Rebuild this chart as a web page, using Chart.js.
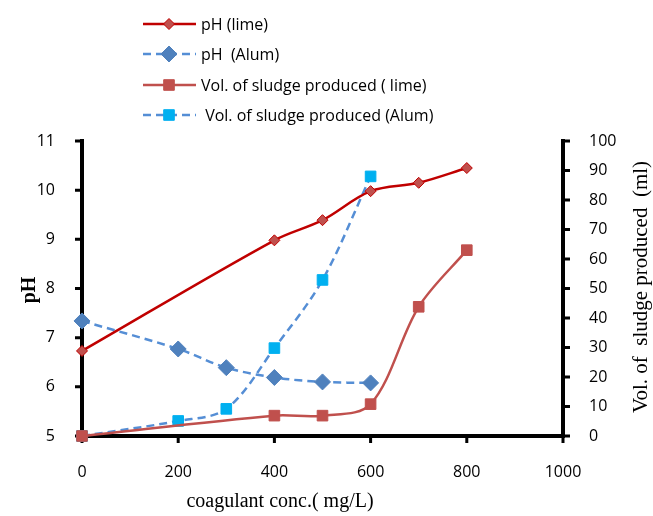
<!DOCTYPE html>
<html>
<head>
<meta charset="utf-8">
<script src="https://cdn.jsdelivr.net/npm/chart.js@4/dist/chart.umd.min.js"></script>
<style>
  html, body { margin: 0; padding: 0; background: #fff; }
  #wrap { width: 653px; height: 516px; position: relative; }
</style>
</head>
<body>
<div id="wrap"><canvas id="chart"></canvas></div>
<script>
// coagulant doses (mg/L)
const limeDose = [0, 400, 500, 600, 700, 800];
const alumDose = [0, 200, 300, 400, 500, 600];

// pH values
const phLime = [6.73, 8.98, 9.39, 9.98, 10.15, 10.45];
const phAlum = [7.34, 6.77, 6.39, 6.19, 6.10, 6.08];

// sludge volume (ml)
const sludgeLime = [0, 6.9, 6.9, 10.8, 43.8, 63];
const sludgeAlum = [0, 5.1, 9.2, 29.8, 52.9, 88];

const seriesNames = ['pH (lime)', 'pH  (Alum)', 'Vol. of sludge produced ( lime)', ' Vol. of sludge produced (Alum)'];
const xTicks = [0, 200, 400, 600, 800, 1000];

const tickFont = { family: '"Open Sans", sans-serif', size: 16 };
const serif = '"Liberation Serif", "Times New Roman", serif';

function pairs(xs, ys) {
    return xs.map((x, i) => ({ x: x, y: ys[i] }));
}

// thick black axis lines with outward tick marks
const axesLines = {
    id: 'axesLines',
    beforeDatasetsDraw(chart) {
        const ctx = chart.ctx;
        const a = chart.chartArea;
        const sx = chart.scales.x, sy = chart.scales.y, sy2 = chart.scales.y2;
        ctx.save();
        ctx.strokeStyle = '#000';
        ctx.lineWidth = 4;
        ctx.lineCap = 'square';
        ctx.beginPath();
        ctx.moveTo(a.left, a.top); ctx.lineTo(a.left, a.bottom);
        ctx.moveTo(a.right, a.top); ctx.lineTo(a.right, a.bottom);
        ctx.moveTo(a.left, a.bottom); ctx.lineTo(a.right, a.bottom);
        ctx.stroke();
        ctx.lineCap = 'butt';
        ctx.lineWidth = 3;
        ctx.beginPath();
        sx.ticks.forEach(t => {
            const px = sx.getPixelForValue(t.value);
            ctx.moveTo(px, a.bottom); ctx.lineTo(px, a.bottom + 7);
        });
        sy.ticks.forEach(t => {
            const py = sy.getPixelForValue(t.value);
            ctx.moveTo(a.left, py); ctx.lineTo(a.left - 7, py);
        });
        sy2.ticks.forEach(t => {
            const py = sy2.getPixelForValue(t.value);
            ctx.moveTo(a.right, py); ctx.lineTo(a.right + 7, py);
        });
        ctx.stroke();
        ctx.restore();
    }
};

// draws the vertical legend and the axis titles
const overlay = {
    id: 'overlay',
    afterDraw(chart) {
        const ctx = chart.ctx;
        const rows = [24, 54, 85, 115];
        chart.data.datasets.forEach((ds, i) => {
            const y = rows[i];
            ctx.save();
            ctx.strokeStyle = ds.borderColor;
            ctx.lineWidth = ds.borderWidth;
            ctx.setLineDash(ds.borderDash || []);
            ctx.beginPath();
            ctx.moveTo(143, y);
            ctx.lineTo(196, y);
            ctx.stroke();
            ctx.setLineDash([]);
            ctx.fillStyle = ds.pointBackgroundColor;
            ctx.strokeStyle = ds.pointBorderColor;
            ctx.lineWidth = ds.pointBorderWidth;
            Chart.helpers.drawPoint(ctx, {
                pointStyle: ds.pointStyle,
                radius: ds.pointRadius,
                borderWidth: ds.pointBorderWidth
            }, 169, y);
            ctx.fillStyle = '#000';
            ctx.font = '16px "Open Sans", sans-serif';
            ctx.textBaseline = 'middle';
            ctx.textAlign = 'left';
            ctx.fillText(ds.label, 201, y + 1);
            ctx.restore();
        });

        ctx.save();
        ctx.fillStyle = '#000';
        ctx.textAlign = 'center';
        ctx.textBaseline = 'middle';
        // x title
        ctx.font = '20px ' + serif;
        ctx.fillText('coagulant conc.( mg/L)', 280, 502);
        // left title
        ctx.save();
        ctx.translate(30, 290);
        ctx.rotate(-Math.PI / 2);
        ctx.font = 'bold 20px ' + serif;
        ctx.fillText('pH', 0, 0);
        ctx.restore();
        // right title
        ctx.save();
        ctx.translate(641, 287);
        ctx.rotate(-Math.PI / 2);
        ctx.font = '21px ' + serif;
        ctx.fillText('Vol. of  sludge produced  (ml)', 0, 0);
        ctx.restore();
        ctx.restore();
    }
};

const axisGrid = { display: false };
const axisBorder = { display: false };

new Chart(document.getElementById('chart'), {
    type: 'line',
    data: {
        datasets: [
            {
                label: seriesNames[0],
                data: pairs(limeDose, phLime),
                yAxisID: 'y',
                borderColor: '#C00000',
                borderWidth: 2.5,
                pointStyle: 'rectRot',
                pointRadius: 5.5,
                pointBackgroundColor: '#C0504D',
                pointBorderColor: '#C00000',
                pointBorderWidth: 1,
                tension: 0.33,
                clip: false
            },
            {
                label: seriesNames[1],
                data: pairs(alumDose, phAlum),
                yAxisID: 'y',
                borderColor: '#558ED5',
                borderWidth: 2.5,
                borderDash: [8, 5],
                pointStyle: 'rectRot',
                pointRadius: 8,
                pointBackgroundColor: '#4F81BD',
                pointBorderColor: '#4F81BD',
                pointBorderWidth: 1,
                tension: 0.33,
                clip: false
            },
            {
                label: seriesNames[2],
                data: pairs(limeDose, sludgeLime),
                yAxisID: 'y2',
                borderColor: '#C0504D',
                borderWidth: 2.5,
                pointStyle: 'rect',
                pointRadius: 7.5,
                pointBackgroundColor: '#C0504D',
                pointBorderColor: '#C0504D',
                pointBorderWidth: 1,
                tension: 0.33,
                clip: false
            },
            {
                label: seriesNames[3],
                data: pairs(alumDose, sludgeAlum),
                yAxisID: 'y2',
                borderColor: '#558ED5',
                borderWidth: 2.5,
                borderDash: [8, 5],
                pointStyle: 'rect',
                pointRadius: 7.5,
                pointBackgroundColor: '#00B0F0',
                pointBorderColor: '#00B0F0',
                pointBorderWidth: 1,
                tension: 0.33,
                clip: false
            }
        ]
    },
    options: {
        responsive: true,
        maintainAspectRatio: false,
        animation: false,
        layout: { padding: { top: 141, left: 0, right: 0, bottom: 0 } },
        plugins: {
            legend: { display: false },
            tooltip: { enabled: false }
        },
        scales: {
            x: {
                type: 'linear',
                min: 0,
                max: 1000,
                afterBuildTicks: (s) => { s.ticks = xTicks.map(v => ({ value: v })); },
                afterFit: (s) => { s.height = 80; },
                grid: axisGrid,
                border: axisBorder,
                ticks: { color: '#000', font: tickFont, padding: 19, callback: (v) => String(v) }
            },
            y: {
                position: 'left',
                min: 5,
                max: 11,
                afterFit: (s) => { s.width = 82; },
                grid: axisGrid,
                border: axisBorder,
                ticks: { stepSize: 1, color: '#000', font: tickFont, padding: 19 }
            },
            y2: {
                position: 'right',
                min: 0,
                max: 100,
                afterFit: (s) => { s.width = 90; },
                grid: axisGrid,
                border: axisBorder,
                ticks: { stepSize: 10, color: '#000', font: tickFont, padding: 18 }
            }
        }
    },
    plugins: [axesLines, overlay]
});
</script>
</body>
</html>
